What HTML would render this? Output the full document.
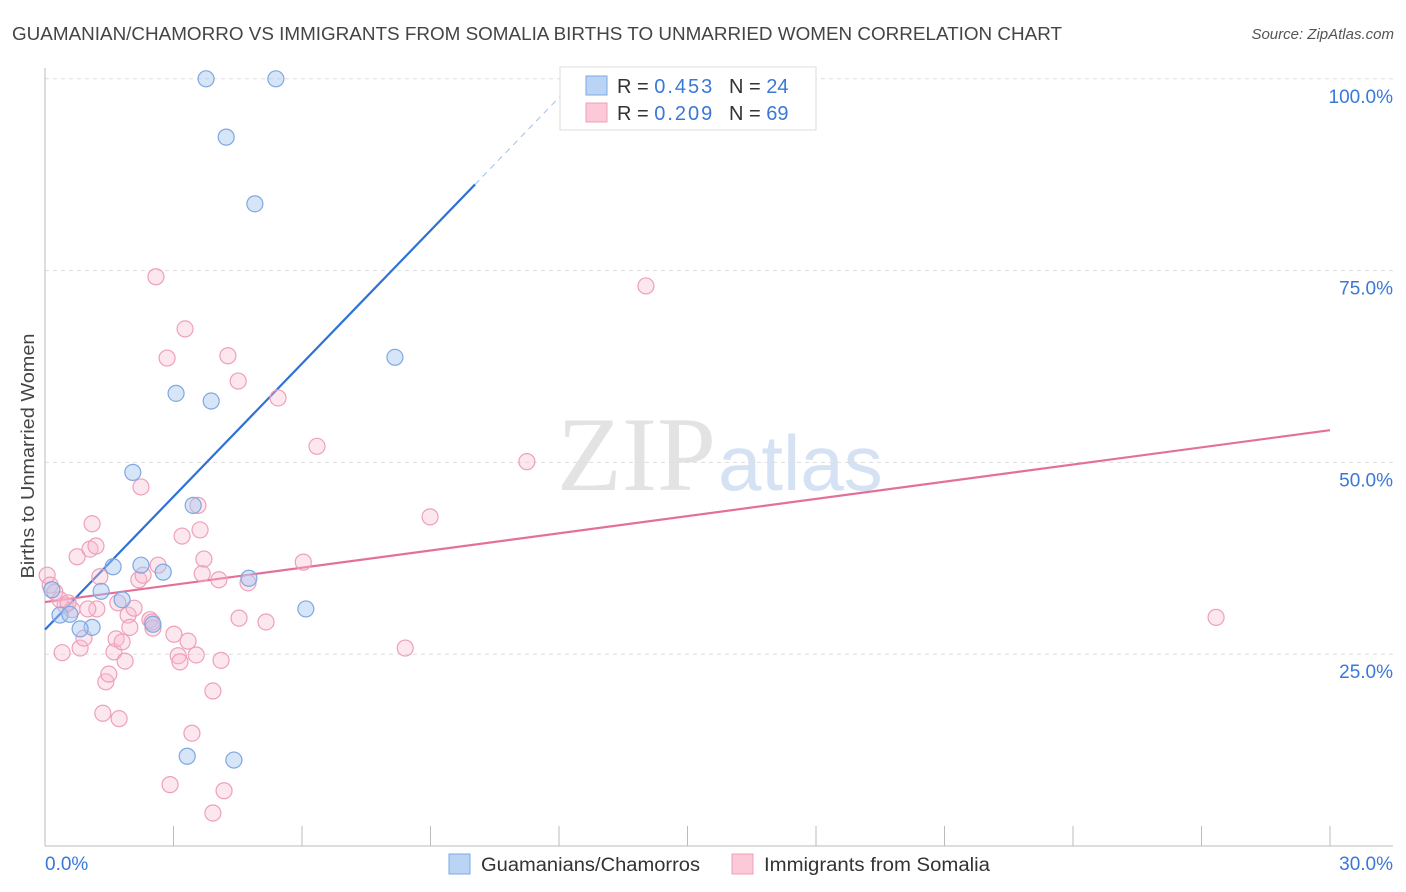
<!DOCTYPE html>
<html><head><meta charset="utf-8"><style>
body{margin:0;background:#fff;font-family:"Liberation Sans",sans-serif;}
svg{display:block}
</style></head><body>
<svg id="chart" width="1406" height="892">
<text x="12" y="40" font-size="18" fill="#444" textLength="1050" lengthAdjust="spacingAndGlyphs">GUAMANIAN/CHAMORRO VS IMMIGRANTS FROM SOMALIA BIRTHS TO UNMARRIED WOMEN CORRELATION CHART</text>
<text x="1394" y="39" font-size="15" fill="#555" text-anchor="end" font-style="italic">Source: ZipAtlas.com</text>
<text x="34" y="456" font-size="18" fill="#444" text-anchor="middle" textLength="245" lengthAdjust="spacingAndGlyphs" transform="rotate(-90 34 456)">Births to Unmarried Women</text>
<text x="716" y="490" font-size="106" fill="#e3e3e3" text-anchor="end" font-family="Liberation Serif,serif">ZIP</text>
<text x="718" y="490" font-size="78" fill="#d4e2f4">atlas</text>
<g id="grid"></g><g id="axes"></g><g id="lines"></g><g id="pts"></g>
<g>
<rect x="560" y="67" width="256" height="63" fill="#fff" stroke="#ddd"/>
<rect x="586" y="76" width="21" height="19" fill="#b9d4f5" stroke="#7fa8e0"/>
<rect x="586" y="103" width="21" height="19" fill="#fbc9d8" stroke="#eea0b8"/>
<text x="617" y="93" font-size="20" fill="#333">R = <tspan fill="#3a78d8" textLength="58">0.453</tspan><tspan x="729">N = </tspan><tspan fill="#3a78d8">24</tspan></text>
<text x="617" y="120" font-size="20" fill="#333">R = <tspan fill="#3a78d8" textLength="58">0.209</tspan><tspan x="729">N = </tspan><tspan fill="#3a78d8">69</tspan></text>
</g>
<g>
<rect x="449" y="854" width="21" height="20" fill="#b9d4f5" stroke="#7fa8e0"/>
<text x="481" y="871" font-size="19" fill="#333" textLength="219" lengthAdjust="spacingAndGlyphs">Guamanians/Chamorros</text>
<rect x="732" y="854" width="21" height="20" fill="#fbc9d8" stroke="#eea0b8"/>
<text x="764" y="871" font-size="19" fill="#333" textLength="226" lengthAdjust="spacingAndGlyphs">Immigrants from Somalia</text>
</g>
</svg>
<script>
const yTicks=[25,50,75,100];
const yTickLabels=["25.0%","50.0%","75.0%","100.0%"];
const xTicks=[0,3,6,9,12,15,18,21,24,27,30];
const blueX=[3.76,5.39,4.23,4.90,8.17,3.06,3.88,2.05,3.46,1.59,2.24,2.76,4.76,1.31,1.80,2.52,1.10,0.82,0.35,0.58,6.09,3.32,4.41,0.16];
const blueY=[100,100,92.4,83.7,63.7,59.0,58.0,48.7,44.4,36.4,36.6,35.7,34.9,33.2,32.1,28.9,28.5,28.3,30.1,30.2,30.9,11.7,11.2,33.4];
const pinkX=[0.05,0.12,0.23,0.47,0.63,0.35,0.54,0.40,0.75,0.82,0.91,1.10,1.05,1.19,1.21,1.28,1.35,1.42,1.49,1.61,1.66,1.73,1.80,1.87,1.94,1.98,2.08,2.24,2.19,2.29,2.45,2.52,2.59,2.64,2.85,3.01,3.11,3.15,3.20,3.27,3.34,3.43,3.53,3.57,3.62,3.67,3.71,3.92,4.06,4.11,4.18,4.27,4.51,4.53,4.74,5.16,5.44,6.03,6.35,8.41,8.99,11.25,14.03,27.34,2.92,3.92,1.00,1.70,2.50];
const pinkY=[35.3,34.0,33.1,31.4,30.8,32.1,31.7,25.2,37.7,25.8,27.1,42.0,38.7,39.1,30.9,35.1,17.3,21.4,22.4,25.3,27.0,16.6,26.6,24.1,30.1,28.5,31.0,46.8,34.7,35.3,29.5,28.4,74.2,36.6,63.6,27.6,24.8,24.0,40.4,67.4,26.7,14.7,24.9,44.4,41.2,35.5,37.4,20.2,34.7,24.2,7.2,63.9,60.6,29.7,34.3,29.2,58.4,37.0,52.1,25.8,42.9,50.1,73.0,29.8,8.0,4.3,30.9,31.7,29.2];
const blueLine=[28.2,5.78];
const pinkLine=[31.8,54.2];
const X=v=>45+v*1285/30, Y=v=>846-v*7.672;
const NS="http://www.w3.org/2000/svg";
function mk(p,t,a){const e=document.createElementNS(NS,t);for(const k in a)e.setAttribute(k,a[k]);document.getElementById(p).appendChild(e);return e;}
yTicks.forEach((t,i)=>{
 const l=mk('grid','line',{x1:45,x2:1393,y1:Y(t),y2:Y(t),stroke:'#ddd','stroke-dasharray':'4,4'});
 
 
 const tx=mk('grid','text',{x:1393,y:Y(t)+24,'font-size':19,fill:'#3a78d8','text-anchor':'end'});
 tx.textContent=yTickLabels[i];
 
 
});
let a=mk('axes','line',{x1:45,x2:45,y1:68,y2:846,stroke:'#bbb'});


a=mk('axes','line',{x1:45,x2:1393,y1:846,y2:846,stroke:'#bbb'});


xTicks.forEach(t=>{const l=mk('axes','line',{x1:X(t),x2:X(t),y1:826,y2:846,stroke:'#bbb'});
 
 });
let tl=mk('axes','text',{x:45,y:870,'font-size':19,fill:'#3a78d8'});tl.textContent='0.0%';


tl=mk('axes','text',{x:1393,y:870,'font-size':19,fill:'#3a78d8','text-anchor':'end'});tl.textContent='30.0%';


pinkX.forEach((x,i)=>{const c=mk('pts','circle',{cx:X(x),cy:Y(pinkY[i]),r:8,fill:'rgba(248,185,205,0.35)',stroke:'#eea0b8','stroke-width':1.2});
 
 });
blueX.forEach((x,i)=>{const c=mk('pts','circle',{cx:X(x),cy:Y(blueY[i]),r:8,fill:'rgba(165,198,240,0.45)',stroke:'#7fa8e0','stroke-width':1.2});
 
 });
const bx1=10.04,bx2=12.5;
let ln=mk('lines','line',{x1:X(0),y1:Y(blueLine[0]),x2:X(bx1),y2:Y(blueLine[0]+blueLine[1]*bx1),stroke:'#2f72d6','stroke-width':2.2});


ln=mk('lines','line',{x1:X(bx1),y1:Y(blueLine[0]+blueLine[1]*bx1),x2:X(bx2),y2:Y(blueLine[0]+blueLine[1]*bx2),stroke:'#9fbfe8','stroke-width':1,'stroke-dasharray':'6,5'});


ln=mk('lines','line',{x1:X(0),y1:Y(pinkLine[0]),x2:X(30),y2:Y(pinkLine[1]),stroke:'#e4709a','stroke-width':2.2});


</script>
</body></html>
